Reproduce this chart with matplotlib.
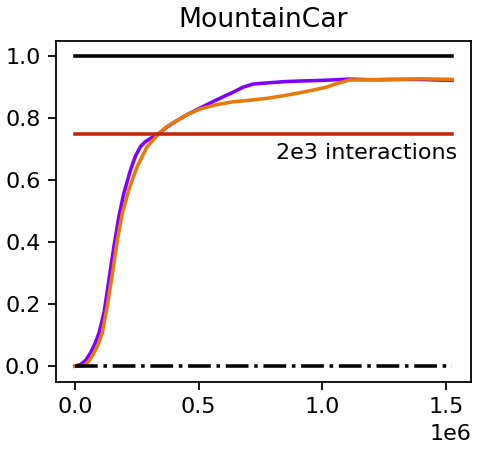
import numpy as np
import matplotlib.pyplot as plt
from matplotlib.ticker import MultipleLocator

# steps (in millions) and scores
steps_purple = [0.0, 0.024, 0.045, 0.064, 0.08, 0.098, 0.118, 0.138, 0.158, 0.178,
                0.198, 0.225, 0.245, 0.265, 0.285, 0.306, 0.339, 0.37, 0.406,
                0.455, 0.507, 0.57, 0.64, 0.68, 0.72, 0.78, 0.85, 0.92, 1.0,
                1.11, 1.2, 1.3, 1.4, 1.47, 1.525]
score_purple = [0.0, 0.006, 0.02, 0.044, 0.07, 0.108, 0.173, 0.28, 0.387, 0.483,
                0.558, 0.633, 0.678, 0.708, 0.724, 0.735, 0.75, 0.77, 0.789,
                0.812, 0.833, 0.858, 0.884, 0.9, 0.91, 0.914, 0.918, 0.92, 0.922,
                0.926, 0.924, 0.925, 0.925, 0.923, 0.922]

steps_orange = [0.0, 0.03, 0.044, 0.06, 0.078, 0.095, 0.111, 0.131, 0.152, 0.172,
                0.192, 0.218, 0.252, 0.292, 0.339, 0.37, 0.406, 0.455, 0.507,
                0.57, 0.64, 0.71, 0.776, 0.84, 0.909, 0.96, 1.017, 1.06, 1.11,
                1.2, 1.3, 1.4, 1.47, 1.525]
score_orange = [0.0, 0.0, 0.006, 0.02, 0.044, 0.072, 0.108, 0.194, 0.30, 0.408,
                0.494, 0.569, 0.644, 0.708, 0.75, 0.772, 0.789, 0.812, 0.83,
                0.843, 0.853, 0.858, 0.864, 0.872, 0.882, 0.89, 0.90, 0.912, 0.923,
                0.924, 0.925, 0.927, 0.926, 0.925]

max_score = 1.0
min_score = 0.0
threshold = 0.75
x_end = 1.525

# small figure at high dpi, default font sizes
fig, ax = plt.subplots(figsize=(477 / 160, 450 / 160), dpi=160)
ax.plot(np.array(steps_purple) * 1e6, score_purple, color="#8000ff", lw=1.6)
ax.plot(np.array(steps_orange) * 1e6, score_orange, color="#e8780a", lw=1.6)
ax.plot([0, x_end * 1e6], [max_score, max_score], color="black", lw=1.6)
ax.plot([0, x_end * 1e6], [min_score, min_score], color="black", lw=1.6, ls="-.")
ax.plot([0, x_end * 1e6], [threshold, threshold], color="#c0280c", lw=1.6)
ax.text(1.545e6, threshold - 0.03, "2e3 interactions", ha="right", va="top")
ax.set_title("MountainCar")
ax.xaxis.set_major_locator(MultipleLocator(0.5e6))
plt.subplots_adjust(left=0.1174, right=0.9874, top=0.9096, bottom=0.1518)
plt.savefig("out.png")
